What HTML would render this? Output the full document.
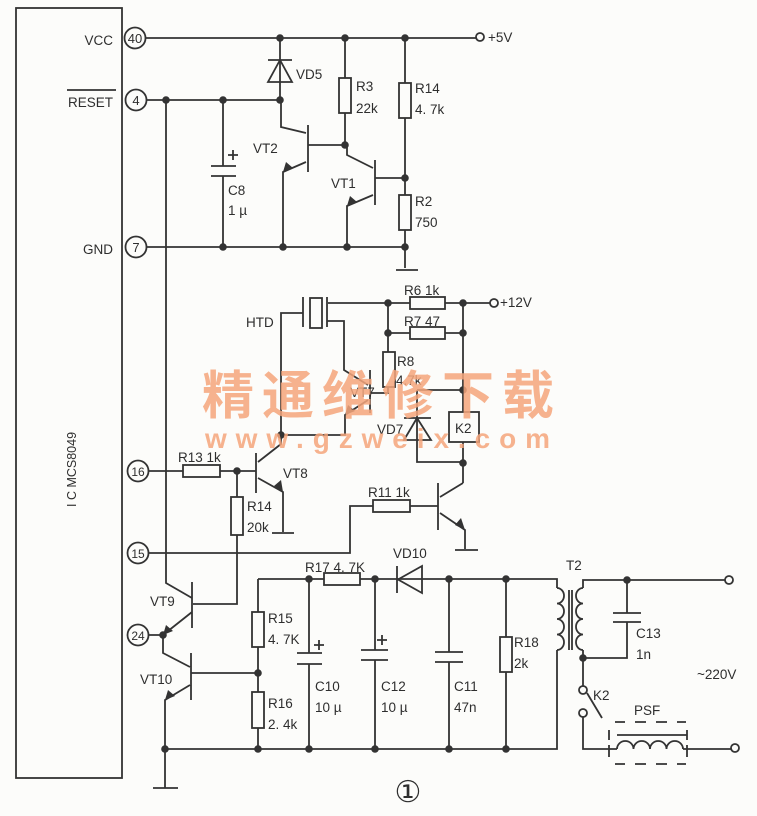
<!DOCTYPE html>
<html><head><meta charset="utf-8"><style>
html,body{margin:0;padding:0;background:#fcfcfa;}
svg{display:block;}
text{font-family:"Liberation Sans","DejaVu Sans",sans-serif;fill:#2e2e2e;}
</style></head><body>
<svg width="757" height="816" viewBox="0 0 757 816" xmlns="http://www.w3.org/2000/svg">
<g stroke="#333" stroke-width="1.8" fill="none">
<rect x="16" y="8" width="106" height="770"/>
<circle cx="135" cy="38" r="10.5"/>
<circle cx="136" cy="100" r="10.5"/>
<circle cx="136" cy="247" r="10.5"/>
<circle cx="138" cy="471" r="10.5"/>
<circle cx="138" cy="553" r="10.5"/>
<circle cx="138" cy="635" r="10.5"/>
<line x1="67" y1="90" x2="116" y2="90"/>
<path d="M146 38 H476"/>
<circle cx="480" cy="37" r="4"/>
<path d="M280 38 V100"/>
<path d="M268 60 H292"/>
<path d="M280 60 L268 82 H292 Z"/>
<path d="M147 100 H280"/>
<path d="M166 100 V583 L192 598"/>
<path d="M223 100 V166 M211 166 H236 M211 176 H236 M223 176 V247"/>
<path d="M233 150 V160 M228 155 H238"/>
<path d="M308 125 V172 M308 145 H345 M306 133 L281 127 V100 M306 162 L283 172 V247"/>
<path d="M345 38 V78 M345 113 V145"/>
<rect x="339" y="78" width="12" height="35"/>
<path d="M375 160 V205 M375 178 H405 M373 168 L347 155 V145 M373 195 L347 206 V247"/>
<path d="M405 38 V83 M405 118 V195 M405 230 V268 M396 270 H418"/>
<rect x="399" y="83" width="12" height="35"/>
<rect x="399" y="195" width="12" height="35"/>
<path d="M147 247 H405"/>
<path d="M328 303 H490"/>
<circle cx="494" cy="303" r="4"/>
<rect x="410" y="297" width="35" height="12" fill="#fcfcfa"/>
<path d="M388 303 V352 M388 333 H463 M463 303 V412 M463 442 V483"/>
<rect x="410" y="327" width="35" height="12" fill="#fcfcfa"/>
<rect x="383" y="352" width="12" height="35"/>
<path d="M388 387 V393 H370"/>
<path d="M303 297 V327 M327 297 V327"/>
<rect x="310" y="298" width="12" height="30"/>
<path d="M303 313 H281 V435 H345 V415 L368 400"/>
<path d="M327 321 H344 V370 L368 385"/>
<path d="M370 370 V413"/>
<path d="M417 390 H463 M417 390 V462 H463"/>
<path d="M404 418 H431 M417 418 L404 440 H431 Z"/>
<rect x="449" y="412" width="30" height="30"/>
<path d="M148 471 H183 M220 471 H256"/>
<rect x="183" y="465" width="37" height="12"/>
<path d="M256 453 V493 M258 462 L281 444 V435 M258 478 L283 492 V532 M272 533 H294"/>
<path d="M237 471 V497 M237 535 V604 H193"/>
<rect x="231" y="497" width="12" height="38"/>
<path d="M148 553 H350 V506 H373 M410 506 H438"/>
<rect x="373" y="500" width="37" height="12"/>
<path d="M438 483 V530 M440 497 L463 483 M440 513 L465 530 V549 M455 550 H478"/>
<path d="M192 582 V628 M192 612 L163 635 M148 635 H163"/>
<path d="M163 635 V653 L190 667 M191 653 V700 M191 673 H258 M190 685 L165 700 V788 M153 788 H178"/>
<path d="M258 579 H324 M360 579 H557 V588 M557 650 V749 H165"/>
<rect x="324" y="573" width="36" height="12"/>
<path d="M258 579 V612 M258 647 V692 M258 728 V749"/>
<rect x="252" y="612" width="12" height="35"/>
<rect x="252" y="692" width="12" height="36"/>
<path d="M397 566 V593 M422 566 L398 579.5 L422 593 Z"/>
<path d="M309 579 V653 M297 653 H322 M297 664 H322 M309 664 V749"/>
<path d="M319 640 V650 M314 645 H324"/>
<path d="M375 579 V650 M361 650 H388 M361 660 H388 M375 660 V749"/>
<path d="M382 635 V645 M377 640 H387"/>
<path d="M449 579 V652 M435 652 H463 M435 662 H463 M449 662 V749"/>
<path d="M506 579 V637 M506 672 V749"/>
<rect x="500" y="637" width="12" height="35"/>
<path d="M557 588 a7 7.75 0 0 1 0 15.5 a7 7.75 0 0 1 0 15.5 a7 7.75 0 0 1 0 15.5 a7 7.75 0 0 1 0 15.5"/>
<path d="M569 590 V650 M572 590 V650"/>
<path d="M583 588 a7 7.75 0 0 0 0 15.5 a7 7.75 0 0 0 0 15.5 a7 7.75 0 0 0 0 15.5 a7 7.75 0 0 0 0 15.5"/>
<path d="M583 588 V580 H725 M583 650 V658 H627 V622 M613 622 H641 M613 613 H641 M627 613 V580"/>
<circle cx="729" cy="580" r="4"/>
<path d="M583 658 V686"/>
<circle cx="583" cy="690" r="4"/>
<circle cx="583" cy="713" r="4"/>
<path d="M587 693 L602 718"/>
<path d="M583 717 V749 H617"/>
<path d="M617 749 a8.25 8 0 0 1 16.5 0 a8.25 8 0 0 1 16.5 0 a8.25 8 0 0 1 16.5 0 a8.25 8 0 0 1 16.5 0"/>
<path d="M683 749 H731"/>
<circle cx="735" cy="748" r="4"/>
<path d="M617 735 H687"/>
<path d="M609 730 V740 M609 745 V757 M687 730 V740 M687 745 V757"/>
<path d="M615 722 H625 M635 722 H646 M656 722 H667 M677 722 H686"/>
<path d="M615 764 H625 M635 764 H646 M656 764 H667 M677 764 H686"/>
</g>
<g fill="#333">
<path d="M283 172 L286 162 L293 168 Z"/>
<path d="M347 206 L350 196 L357 202 Z"/>
<path d="M345 415 L348 405 L355 411 Z"/>
<path d="M283 492 L274 486 L281 480 Z"/>
<path d="M465 530 L455 525 L461 518 Z"/>
<path d="M163 635 L166 625 L173 631 Z"/>
<path d="M165 700 L168 690 L175 696 Z"/>
</g>
<g fill="#333">
<circle cx="280" cy="38" r="3.8"/><circle cx="345" cy="38" r="3.8"/><circle cx="405" cy="38" r="3.8"/>
<circle cx="166" cy="100" r="3.8"/><circle cx="223" cy="100" r="3.8"/><circle cx="280" cy="100" r="3.8"/>
<circle cx="345" cy="145" r="3.8"/><circle cx="405" cy="178" r="3.8"/>
<circle cx="223" cy="247" r="3.8"/><circle cx="283" cy="247" r="3.8"/><circle cx="347" cy="247" r="3.8"/><circle cx="405" cy="247" r="3.8"/>
<circle cx="388" cy="303" r="3.8"/><circle cx="463" cy="303" r="3.8"/><circle cx="388" cy="333" r="3.8"/><circle cx="463" cy="333" r="3.8"/>
<circle cx="463" cy="390" r="3.8"/><circle cx="463" cy="463" r="3.8"/><circle cx="281" cy="435" r="3.8"/>
<circle cx="237" cy="471" r="3.8"/><circle cx="163" cy="635" r="3.8"/>
<circle cx="258" cy="673" r="3.8"/>
<circle cx="309" cy="579" r="3.8"/><circle cx="375" cy="579" r="3.8"/><circle cx="449" cy="579" r="3.8"/><circle cx="506" cy="579" r="3.8"/>
<circle cx="165" cy="749" r="3.8"/><circle cx="258" cy="749" r="3.8"/><circle cx="309" cy="749" r="3.8"/><circle cx="375" cy="749" r="3.8"/><circle cx="449" cy="749" r="3.8"/><circle cx="506" cy="749" r="3.8"/>
<circle cx="627" cy="580" r="3.8"/><circle cx="583" cy="658" r="3.8"/>
</g>
<g font-size="13.5">
<text x="113" y="45" text-anchor="end">VCC</text>
<text x="113" y="107" text-anchor="end">RESET</text>
<text x="113" y="254" text-anchor="end">GND</text>
<text x="135" y="43" text-anchor="middle" font-size="13">40</text>
<text x="136" y="105" text-anchor="middle" font-size="13">4</text>
<text x="136" y="252" text-anchor="middle" font-size="13">7</text>
<text x="138" y="476" text-anchor="middle" font-size="12">16</text>
<text x="138" y="558" text-anchor="middle" font-size="12">15</text>
<text x="138" y="640" text-anchor="middle" font-size="12">24</text>
<text x="76" y="507" transform="rotate(-90 76 507)" font-size="12.5">I C  MCS8049</text>
<text x="488" y="42">+5V</text>
<text x="296" y="79">VD5</text>
<text x="356" y="91">R3</text><text x="356" y="113">22k</text>
<text x="415" y="93">R14</text><text x="415" y="114">4. 7k</text>
<text x="415" y="206">R2</text><text x="415" y="227">750</text>
<text x="253" y="153">VT2</text><text x="331" y="188">VT1</text>
<text x="228" y="195">C8</text><text x="228" y="215">1 µ</text>
<text x="404" y="295">R6  1k</text><text x="500" y="307">+12V</text>
<text x="404" y="326">R7  47</text>
<text x="246" y="327">HTD</text>
<text x="397" y="366">R8</text><text x="396" y="385">4.7k</text>
<text x="350" y="397">VT7</text>
<text x="377" y="434">VD7</text>
<text x="455" y="433">K2</text>
<text x="178" y="462">R13  1k</text>
<text x="283" y="478">VT8</text>
<text x="247" y="511">R14</text><text x="247" y="532">20k</text>
<text x="368" y="497">R11  1k</text>
<text x="150" y="606">VT9</text><text x="140" y="684">VT10</text>
<text x="305" y="572">R17  4. 7K</text>
<text x="393" y="558">VD10</text>
<text x="268" y="623">R15</text><text x="268" y="644">4. 7K</text>
<text x="268" y="708">R16</text><text x="268" y="729">2. 4k</text>
<text x="315" y="691">C10</text><text x="315" y="712">10 µ</text>
<text x="381" y="691">C12</text><text x="381" y="712">10 µ</text>
<text x="454" y="691">C11</text><text x="454" y="712">47n</text>
<text x="514" y="647">R18</text><text x="514" y="668">2k</text>
<text x="566" y="570">T2</text>
<text x="636" y="638">C13</text><text x="636" y="659">1n</text>
<text x="593" y="700">K2</text>
<text x="634" y="715">PSF</text>
<text x="697" y="679">~220V</text>
</g>
<text x="408" y="802" text-anchor="middle" font-size="30" style="font-family:'Liberation Serif',serif">①</text>
<g>
<text x="202" y="414" font-size="52" font-weight="bold" textLength="352" lengthAdjust="spacing" style="fill:#f5a67c;opacity:0.85;font-family:'Liberation Sans','Noto Sans CJK SC',sans-serif">精通维修下载</text>
<text x="205" y="448" font-size="28" font-weight="bold" textLength="345" lengthAdjust="spacing" style="fill:#f5a67c;opacity:0.85">www.gzweix.com</text>
</g>
</svg>
</body></html>
